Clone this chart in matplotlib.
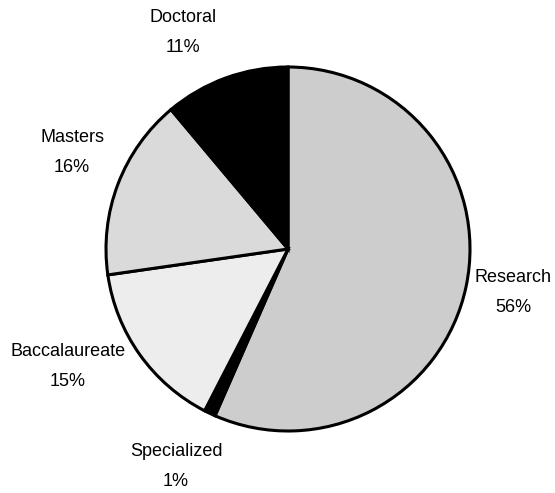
import numpy as np
import matplotlib.pyplot as plt

# Share of institutions by type
labels = ['Research', 'Specialized', 'Baccalaureate', 'Masters', 'Doctoral']
shares = [56, 1, 15, 16, 11]
colors = ['#cdcdcd', 'black', '#ededed', '#dadada', 'black']

# label spots, measured in pixels from the top-left corner
label_xy = [(513, 277), (176, 452), (68, 352), (72, 138), (183, 18)]
line_gap = 30

plt.rcParams['font.family'] = ['Liberation Sans', 'DejaVu Sans']

W, H = 555, 493
fig = plt.figure(figsize=(W / 100, H / 100), dpi=100)
ax = fig.add_axes([0, 0, 1, 1])
cx, cy, R = 288, H - 249, 182
ax.pie(shares, colors=colors, startangle=90, counterclock=False,
       center=(cx, cy), radius=R, normalize=True,
       wedgeprops=dict(edgecolor='black', linewidth=2.2))

for lab, s, (x, y) in zip(labels, shares, label_xy):
    ax.text(x, H - y, lab, ha='center', va='center', fontsize=13)
    ax.text(x, H - y - line_gap, str(s) + '%', ha='center', va='center', fontsize=13)

ax.set_xlim(0, W)
ax.set_ylim(0, H)
ax.set_aspect('equal')
ax.axis('off')
fig.savefig('out.png', dpi=100, facecolor='white')
